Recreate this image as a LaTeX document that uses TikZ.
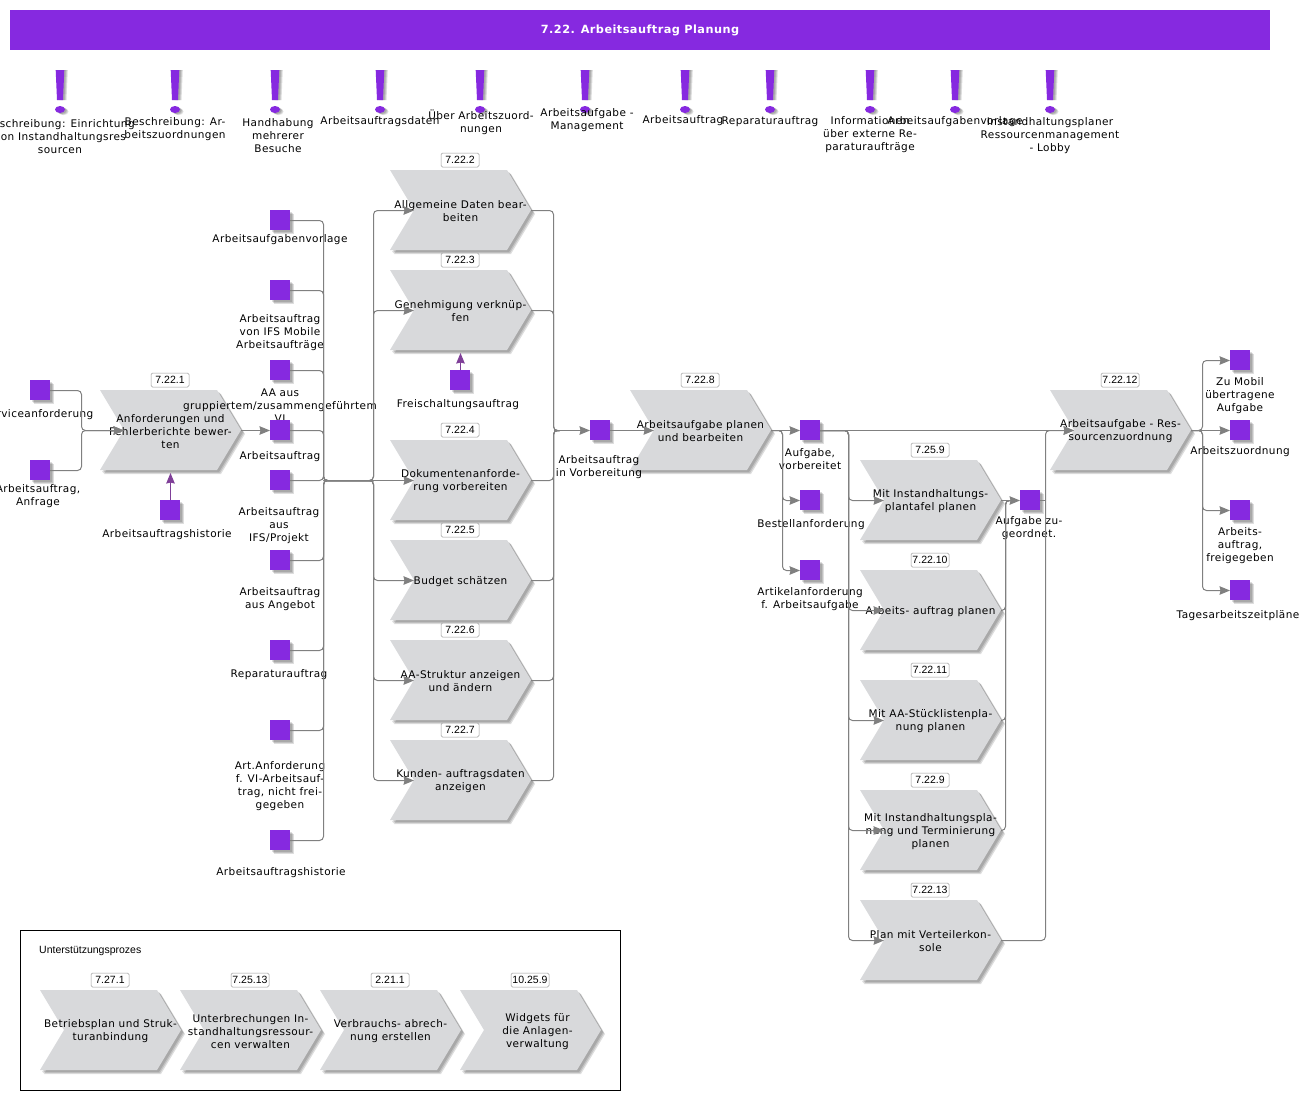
\documentclass[tikz,border=0pt]{standalone}
\usepackage{fontspec}
\setmainfont[LetterSpace=4]{DejaVu Sans}
\newfontfamily\numfont{Liberation Sans}
\usetikzlibrary{arrows.meta,calc}
\definecolor{vio}{HTML}{8629E0}
\definecolor{chevgray}{HTML}{D8D9DB}
\definecolor{linegray}{HTML}{808080}
\definecolor{inflow}{HTML}{7F3F98}
\tikzset{
 every node/.style={font=\fontsize{10.5}{13}\selectfont},
 sq/.style={fill=vio,minimum size=20pt,inner sep=0pt},
 shlayer/.style={fill=black,opacity=.13},
 lab/.style={align=center,inner sep=0pt,text=black},
 chevtxt/.style={align=center,inner sep=0pt,minimum width=141pt,minimum height=80pt,text=black},
 numbox/.style={draw=gray!80,fill=white,rounded corners=1.5pt,line width=.5pt,minimum width=38pt,minimum height=14pt,inner sep=0pt,font=\numfont\fontsize{10.5}{12}\selectfont},
 lin/.style={draw=linegray,line width=1pt,rounded corners=4pt},
 conn/.style={lin,-{Stealth[length=10.5pt,width=8.5pt,inset=1pt,fill=linegray]}},
 inarrow/.style={draw=inflow,line width=1pt,-{Stealth[length=10.5pt,width=8.5pt,inset=1pt,fill=inflow]}},
}
% square: soft shadow, node, and the named points where its connectors attach
\newcommand{\squ}[3]{%
 \foreach \d in {2,3,4}{\fill[shlayer] (#2+\d,#3+\d) rectangle ++(20,20);}
 \node[sq] (#1) at (#2+10,#3+10) {};
 \coordinate (#1w) at (#2,#3+10.5);
 \coordinate (#1e) at (#2+20,#3+10.5);
 \coordinate (#1t) at (#2+10.5,#3);}
\newcommand{\lbl}[4]{\node[lab] (#1) at (#2,#3+2) {#4};}
\newcommand{\chev}[5]{%
 \begin{scope}[shift={(#2,#3)}]
  \foreach \d in {2,3,4}{\fill[shlayer] (\d,\d)--(117+\d,\d)--(141+\d,40+\d)--(117+\d,80+\d)--(\d,80+\d)--(24+\d,40+\d)--cycle;}
  \fill[chevgray] (0,0)--(117,0)--(141,40)--(117,80)--(0,80)--(24,40)--cycle;
 \end{scope}
 \node[chevtxt] (#1) at (#2+70.5,#3+41.5) {#5};
 \node[numbox] (#1num) at (#2+70,#3-10) {#4};
 \coordinate (#1w) at (#2+24,#3+40.5);
 \coordinate (#1e) at (#2+141,#3+40.5);
 \coordinate (#1b) at (#2+70.5,#3+83);}
\newcommand{\excl}[2]{%
 \begin{scope}[shift={(#2,70)}]
  \foreach \d in {1.5,2.5,3.5}{\fill[shlayer] (-4.3+\d,0)--(4.3+\d,0)--(3+\d,30)--(-3+\d,30)--cycle;
  \fill[shlayer] (\d,39.5+\d*.6) ellipse [x radius=5,y radius=3.5];}
  \fill[vio] (-4.3,0)--(4.3,0)--(3,30)--(-3,30)--cycle;
  \fill[vio] (0,39.5) ellipse [x radius=5,y radius=3.5];
  \coordinate (#1) at (0,0);
 \end{scope}}
\begin{document}
\begin{tikzpicture}[x=1pt,y=-1pt]
\useasboundingbox (0,0) rectangle (1312,1100);
\fill[white] (0,0) rectangle (1312,1100);
% header
\node[fill=vio,minimum width=1260pt,minimum height=40pt,inner sep=0pt,text=white,text depth=2pt,font=\fontsize{11.3}{13}\selectfont\bfseries] (head) at (640,30) {\raisebox{-1pt}{7.22. Arbeitsauftrag Planung}};
% exclamation marks and their labels
\excl{e1}{60}\excl{e2}{175}\excl{e3}{275}\excl{e4}{380}\excl{e5}{480}\excl{e6}{585}\excl{e7}{685}\excl{e8}{770}\excl{e9}{870}\excl{e10}{955}\excl{e11}{1050}
\lbl{t1}{60}{135}{Beschreibung: Einrichtung\\von Instandhaltungsres\\sourcen}
\lbl{t2}{175}{127.5}{Beschreibung: Ar-\\beitszuordnungen}
\lbl{t3}{278}{134}{Handhabung\\mehrerer\\Besuche}
\lbl{t4}{380}{120}{Arbeitsauftragsdaten}
\lbl{t5}{481}{120.5}{Über Arbeitszuord-\\nungen}
\lbl{t6}{587}{118.5}{Arbeitsaufgabe -\\Management}
\lbl{t7}{683}{119}{Arbeitsauftrag}
\lbl{t8}{770}{120}{Reparaturauftrag}
\lbl{t9}{870}{133}{Informationen\\über externe Re-\\paraturaufträge}
\lbl{t10}{955}{120}{Arbeitsaufgabenvorlage}
\lbl{t11}{1050}{134}{Instandhaltungsplaner\\Ressourcenmanagement\\- Lobby}
% chevrons
\chev{c1}{100}{390}{7.22.1}{Anforderungen und\\Fehlerberichte bewer-\\ten}
\chev{c2}{390}{170}{7.22.2}{Allgemeine Daten bear-\\beiten}
\chev{c3}{390}{270}{7.22.3}{Genehmigung verknüp-\\fen}
\chev{c4}{390}{440}{7.22.4}{Dokumentenanforde-\\rung vorbereiten}
\chev{c5}{390}{540}{7.22.5}{Budget schätzen}
\chev{c6}{390}{640}{7.22.6}{AA-Struktur anzeigen\\und ändern}
\chev{c7}{390}{740}{7.22.7}{Kunden- auftragsdaten\\anzeigen}
\chev{c8}{630}{390}{7.22.8}{Arbeitsaufgabe planen\\und bearbeiten}
\chev{c9}{860}{460}{7.25.9}{Mit Instandhaltungs-\\plantafel planen}
\chev{c10}{860}{570}{7.22.10}{Arbeits- auftrag planen}
\chev{c11}{860}{680}{7.22.11}{Mit AA-Stücklistenpla-\\nung planen}
\chev{c12}{860}{790}{7.22.9}{Mit Instandhaltungspla-\\nung und Terminierung\\planen}
\chev{c13}{860}{900}{7.22.13}{Plan mit Verteilerkon-\\sole}
\chev{c14}{1050}{390}{7.22.12}{Arbeitsaufgabe - Res-\\sourcenzuordnung}
% support box
\node[draw=black,line width=.8pt,minimum width=600pt,minimum height=160pt,inner sep=0pt] (box) at (320,1010) {};
\node[lab,anchor=west,font=\numfont\fontsize{10.5}{12}\selectfont] (boxt) at (39,951) {Unterstützungsprozes};
\chev{u1}{40}{990}{7.27.1}{Betriebsplan und Struk-\\turanbindung}
\chev{u2}{180}{990}{7.25.13}{Unterbrechungen In-\\standhaltungsressour-\\cen verwalten}
\chev{u3}{320}{990}{2.21.1}{Verbrauchs- abrech-\\nung erstellen}
\chev{u4}{460}{990}{10.25.9}{\hspace*{14pt}Widgets für\\\hspace*{14pt}die Anlagen-\\\hspace*{14pt}verwaltung}
% squares and labels
\squ{a1}{30}{380}\lbl{la1}{38}{413}{Serviceanforderung}
\squ{a2}{30}{460}\lbl{la2}{38}{494.5}{Arbeitsauftrag,\\Anfrage}
\squ{a3}{160}{500}\lbl{la3}{167}{533}{Arbeitsauftragshistorie}
\squ{b1}{270}{210}\lbl{lb1}{280}{238}{Arbeitsaufgabenvorlage}
\squ{b2}{270}{280}\lbl{lb2}{280}{331}{Arbeitsauftrag\\von IFS Mobile\\Arbeitsaufträge}
\squ{b3}{270}{360}\lbl{lb3}{280}{404}{AA aus\\gruppiertem/zusammengeführtem\\VI}
\squ{b4}{270}{420}\lbl{lb4}{280}{455}{Arbeitsauftrag}
\squ{b5}{270}{470}\lbl{lb5}{279}{524}{Arbeitsauftrag\\aus\\IFS/Projekt}
\squ{b6}{270}{550}\lbl{lb6}{280}{597.5}{Arbeitsauftrag\\aus Angebot}
\squ{b7}{270}{640}\lbl{lb7}{279}{673}{Reparaturauftrag}
\squ{b8}{270}{720}\lbl{lb8}{280}{784.5}{Art.Anforderung\\f. VI-Arbeitsauf-\\trag, nicht frei-\\gegeben}
\squ{b9}{270}{830}\lbl{lb9}{281}{871}{Arbeitsauftragshistorie}
\squ{f1}{450}{370}\lbl{lf1}{458}{403}{Freischaltungsauftrag}
\squ{v1}{590}{420}\lbl{lv1}{599}{465.5}{Arbeitsauftrag\\in Vorbereitung}
\squ{d1}{800}{420}\lbl{ld1}{810}{457.5}{Aufgabe,\\vorbereitet}
\squ{d2}{800}{490}\lbl{ld2}{811}{523}{Bestellanforderung}
\squ{d3}{800}{560}\lbl{ld3}{810}{597.5}{Artikelanforderung\\f. Arbeitsaufgabe}
\squ{z1}{1020}{490}\lbl{lz1}{1029}{526.5}{Aufgabe zu-\\geordnet.}
\squ{r1}{1230}{350}\lbl{lr1}{1240}{394}{Zu Mobil\\übertragene\\Aufgabe}
\squ{r2}{1230}{420}\lbl{lr2}{1240}{450}{Arbeitszuordnung}
\squ{r3}{1230}{500}\lbl{lr3}{1240}{544}{Arbeits-\\auftrag,\\freigegeben}
\squ{r4}{1230}{580}\lbl{lr4}{1238}{614}{Tagesarbeitszeitpläne}
% bus points
\coordinate (bA) at (81.5,430.5);
\coordinate (bB) at (323.5,480.5);
\coordinate (bC) at (373.5,480.5);
\coordinate (bD) at (553.5,430.5);
\coordinate (bE) at (782.5,430.5);
\coordinate (bF) at (848.5,430.5);
\coordinate (bG) at (1005.5,500.5);
\coordinate (bH) at (1045.5,430.5);
\coordinate (bI) at (1202.5,430.5);
% connectors
\draw[conn] (a1e) -| (bA) -- (c1w);
\draw[conn] (a2e) -| (bA) -- (c1w);
\draw[conn] (c1e) -- (b4w);
\draw[inarrow] (a3t) -- (c1b);
\draw[inarrow] (f1t) -- (c3b);
\foreach \s in {b1,b2,b3,b4,b5,b6,b7,b8,b9}{\draw[lin] (\s e) -| (bB) -- (bC);}
\foreach \c in {c2,c3,c5,c6,c7}{\draw[conn] (bB) -- (bC) |- (\c w);}
\draw[conn] (bB) -- (bC) -- (c4w);
\foreach \c in {c2,c3,c4,c5,c6,c7}{\draw[lin] (\c e) -| (bD) -- ++(6,0);}
\draw[conn] (bD) -- (v1w);
\draw[conn] (v1e) -- (c8w);
\draw[conn] (c8e) -- (d1w);
\draw[conn] (c8e) -- (bE) |- (d2w);
\draw[conn] (c8e) -- (bE) |- (d3w);
\draw[conn] (d1e) -- (c14w);
\foreach \c in {c9,c10,c11,c12,c13}{\draw[conn] (d1e) -- (bF) |- (\c w);}
\draw[conn] (c9e) -- (z1w);
\foreach \c in {c10,c11,c12}{\draw[lin] (\c e) -| (bG) -- ++(8,0);}
\draw[conn] (c13e) -| (bH) -- (c14w);
\draw[lin] (z1e) -- ++(5.5,0);
\draw[conn] (c14e) -- (r2w);
\draw[conn] (c14e) -- (bI) |- (r1w);
\draw[conn] (c14e) -- (bI) |- (r3w);
\draw[conn] (c14e) -- (bI) |- (r4w);
\end{tikzpicture}
\end{document}
